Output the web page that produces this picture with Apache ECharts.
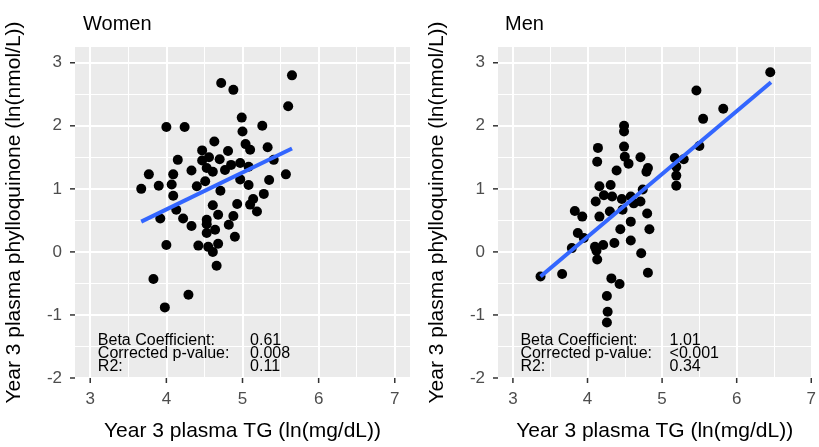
<!DOCTYPE html>
<html>
<head>
<meta charset="utf-8">
<script src="https://cdn.jsdelivr.net/npm/echarts@6/dist/echarts.min.js"></script>
<style>
  html, body { margin: 0; padding: 0; background: #fff; }
  #chart { width: 819px; height: 447px; }
</style>
</head>
<body>
<div id="chart"></div>
<script>
// Year 3 plasma TG (x) vs Year 3 plasma phylloquinone (y)
const womenTG = [5.65, 4.72, 4.88, 5.60, 4.99, 4.00, 4.24, 5.00, 5.26, 4.63, 5.04, 5.10, 5.33, 4.47, 4.81,
  4.15, 4.56, 4.70, 4.47, 5.41, 3.77, 4.09, 4.33, 4.53, 4.61, 4.77, 4.85, 4.97, 5.08, 5.57,
  3.67, 3.90, 4.07, 4.40, 4.51, 4.97, 5.08, 5.35, 4.09, 4.71, 5.28, 5.14, 4.13, 4.61, 4.93,
  5.10, 5.19, 3.92, 4.22, 4.53, 4.68, 4.88, 4.33, 4.53, 4.64, 4.82, 4.53, 4.90, 4.00, 4.42,
  4.55, 4.68, 4.61, 4.66, 3.83, 4.29, 3.98]
const womenK = [2.80, 2.68, 2.57, 2.31, 2.13, 1.98, 1.98, 1.91, 2.00, 1.75, 1.71, 1.62, 1.66, 1.61, 1.60,
  1.46, 1.50, 1.47, 1.45, 1.46, 1.23, 1.23, 1.29, 1.33, 1.27, 1.30, 1.38, 1.41, 1.35, 1.23,
  1.00, 1.05, 1.07, 1.04, 1.12, 1.15, 1.06, 1.14, 0.89, 0.97, 0.92, 0.84, 0.67, 0.74, 0.76,
  0.75, 0.64, 0.53, 0.53, 0.51, 0.59, 0.57, 0.41, 0.44, 0.35, 0.43, 0.30, 0.24, 0.11, 0.10,
  0.08, 0.13, 0.00, -0.22, -0.43, -0.68, -0.88]
const menTG = [6.45, 5.46, 5.82, 5.55, 4.49, 4.49, 4.14, 4.49, 5.50, 4.13, 4.50, 4.55, 4.71, 5.17, 5.29,
  4.39, 4.81, 4.79, 5.19, 5.19, 5.19, 4.16, 4.31, 4.22, 4.33, 4.11, 4.46, 4.58, 4.74, 4.71,
  4.62, 3.83, 3.93, 4.16, 4.30, 4.47, 4.80, 4.58, 4.83, 4.44, 3.87, 3.95, 4.58, 4.36, 4.10,
  4.21, 3.79, 4.12, 4.72, 4.13, 3.37, 3.66, 4.81, 4.32, 4.43, 4.26, 4.27, 4.26]
const menK = [2.85, 2.56, 2.27, 2.11, 2.00, 1.91, 1.65, 1.67, 1.68, 1.43, 1.51, 1.40, 1.50, 1.49, 1.47,
  1.29, 1.33, 1.27, 1.35, 1.21, 1.05, 1.04, 1.06, 0.90, 0.88, 0.80, 0.84, 0.88, 0.99, 0.80,
  0.77, 0.65, 0.56, 0.56, 0.64, 0.67, 0.61, 0.48, 0.36, 0.36, 0.30, 0.22, 0.18, 0.14, 0.08,
  0.11, 0.06, 0.02, -0.02, -0.12, -0.39, -0.35, -0.33, -0.42, -0.51, -0.70, -0.95, -1.12]

// fitted lines (end points)
const womenFit = [[3.67, 0.48], [5.65, 1.64]]
const menFit = [[3.37, -0.39], [6.46, 2.69]]

const xTicks = [3, 4, 5, 6, 7]
const xMinor = [3.5, 4.5, 5.5, 6.5]
const yTicks = [-2, -1, 0, 1, 2, 3]
const yMinor = [-1.5, -0.5, 0.5, 1.5, 2.5]

const statLabels = ['Beta Coefficient:', 'Corrected p-value:', 'R2:']
const womenStats = ['0.61', '0.008', '0.11']
const menStats = ['1.01', '<0.001', '0.34']

const panelTitles = ['Women', 'Men']
const xTitle = 'Year 3 plasma TG (ln(mg/dL))'
const yTitle = 'Year 3 plasma phylloquinone (ln(nmol/L))'

const FONT = 'Liberation Sans, Arial, sans-serif'
const X_MIN = 2.8
const Y_MIN = -2

function zip(xs, ys) {
  return xs.map((x, i) => [x, ys[i]])
}

function gridLines() {
  const d = []
  xMinor.forEach(v => d.push({ xAxis: v, lineStyle: { width: 1 } }))
  yMinor.forEach(v => d.push({ yAxis: v, lineStyle: { width: 1 } }))
  xTicks.forEach(v => d.push({ xAxis: v, lineStyle: { width: 2 } }))
  yTicks.forEach(v => d.push({ yAxis: v, lineStyle: { width: 2 } }))
  return d
}

function xAxisFor(i, xmax) {
  return {
    gridIndex: i, type: 'value', min: X_MIN, max: xmax,
    name: xTitle, nameLocation: 'middle', nameGap: 43,
    nameTextStyle: { color: '#000', fontSize: 21, fontFamily: FONT },
    axisLine: { show: false, onZero: false },
    splitLine: { show: false },
    axisTick: { show: false },
    axisLabel: { customValues: xTicks, color: '#4d4d4d', fontSize: 17, margin: 13, fontFamily: FONT }
  }
}

function yAxisFor(i) {
  return {
    gridIndex: i, type: 'value', min: Y_MIN, max: 3.25,
    name: yTitle, nameLocation: 'middle', nameGap: 50,
    nameTextStyle: { color: '#000', fontSize: 21, fontFamily: FONT },
    axisLine: { show: false, onZero: false },
    splitLine: { show: false },
    axisTick: { show: false },
    axisLabel: { customValues: yTicks, color: '#4d4d4d', fontSize: 17, margin: 13, fontFamily: FONT }
  }
}

function panelSeries(i, pts, fit) {
  return [
    {
      type: 'line', xAxisIndex: i, yAxisIndex: i, data: [], z: 1, silent: true,
      markLine: {
        z: 1, silent: true, symbol: ['none', 'none'], animation: false,
        label: { show: false }, emphasis: { disabled: true },
        lineStyle: { color: '#fff', type: 'solid' },
        data: gridLines()
      }
    },
    {
      type: 'scatter', xAxisIndex: i, yAxisIndex: i, data: pts, z: 3,
      symbolSize: 10, itemStyle: { color: '#000', opacity: 1 }
    },
    {
      type: 'line', xAxisIndex: i, yAxisIndex: i, data: fit, z: 4,
      symbol: 'none', lineStyle: { color: '#3366ff', width: 4 }
    }
  ]
}

const myChart = echarts.init(document.getElementById('chart'))
myChart.setOption({
  animation: false,
  backgroundColor: '#fff',
  title: [
    { text: panelTitles[0], left: 78, top: 9, textStyle: { fontSize: 20, fontWeight: 'normal', color: '#000', fontFamily: FONT } },
    { text: panelTitles[1], left: 500, top: 9, textStyle: { fontSize: 20, fontWeight: 'normal', color: '#000', fontFamily: FONT } }
  ],
  // the right panel is cut off at the image edge in the source figure
  grid: [
    { left: 75, top: 47, width: 335, height: 332, show: true, backgroundColor: '#ebebeb', borderWidth: 0 },
    { left: 498, top: 47, width: 320, height: 332, show: true, backgroundColor: '#ebebeb', borderWidth: 0 }
  ],
  xAxis: [xAxisFor(0, 7.2), xAxisFor(1, 7.0)],
  yAxis: [yAxisFor(0), yAxisFor(1)],
  series: [].concat(
    panelSeries(0, zip(womenTG, womenK), womenFit),
    panelSeries(1, zip(menTG, menK), menFit)
  )
})

// tick marks outside the panel, positioned through the axes' scales
function tickMarks(i) {
  const out = []
  const tick = { stroke: '#333', lineWidth: 1.5 }
  xTicks.forEach(v => {
    const p = myChart.convertToPixel({ gridIndex: i }, [v, Y_MIN])
    out.push({ type: 'line', z: 10, shape: { x1: p[0], y1: p[1], x2: p[0], y2: p[1] + 5 }, style: tick })
  })
  yTicks.forEach(v => {
    const p = myChart.convertToPixel({ gridIndex: i }, [X_MIN, v])
    out.push({ type: 'line', z: 10, shape: { x1: p[0] - 5, y1: p[1], x2: p[0], y2: p[1] }, style: tick })
  })
  return out
}

// stats text, placed in data coordinates like annotate()
function statsText(i, vals) {
  const a = myChart.convertToPixel({ gridIndex: i }, [3.1, -1.3])
  const b = myChart.convertToPixel({ gridIndex: i }, [5.1, -1.3])
  const style = { fill: '#000', fontSize: 16, lineHeight: 13, fontFamily: FONT }
  return [
    { type: 'text', x: a[0], y: a[1], z: 10, style: Object.assign({ text: statLabels.join('\n') }, style) },
    { type: 'text', x: b[0], y: b[1], z: 10, style: Object.assign({ text: vals.join('\n') }, style) }
  ]
}

myChart.setOption({
  graphic: [].concat(tickMarks(0), tickMarks(1), statsText(0, womenStats), statsText(1, menStats))
})
</script>
</body>
</html>
